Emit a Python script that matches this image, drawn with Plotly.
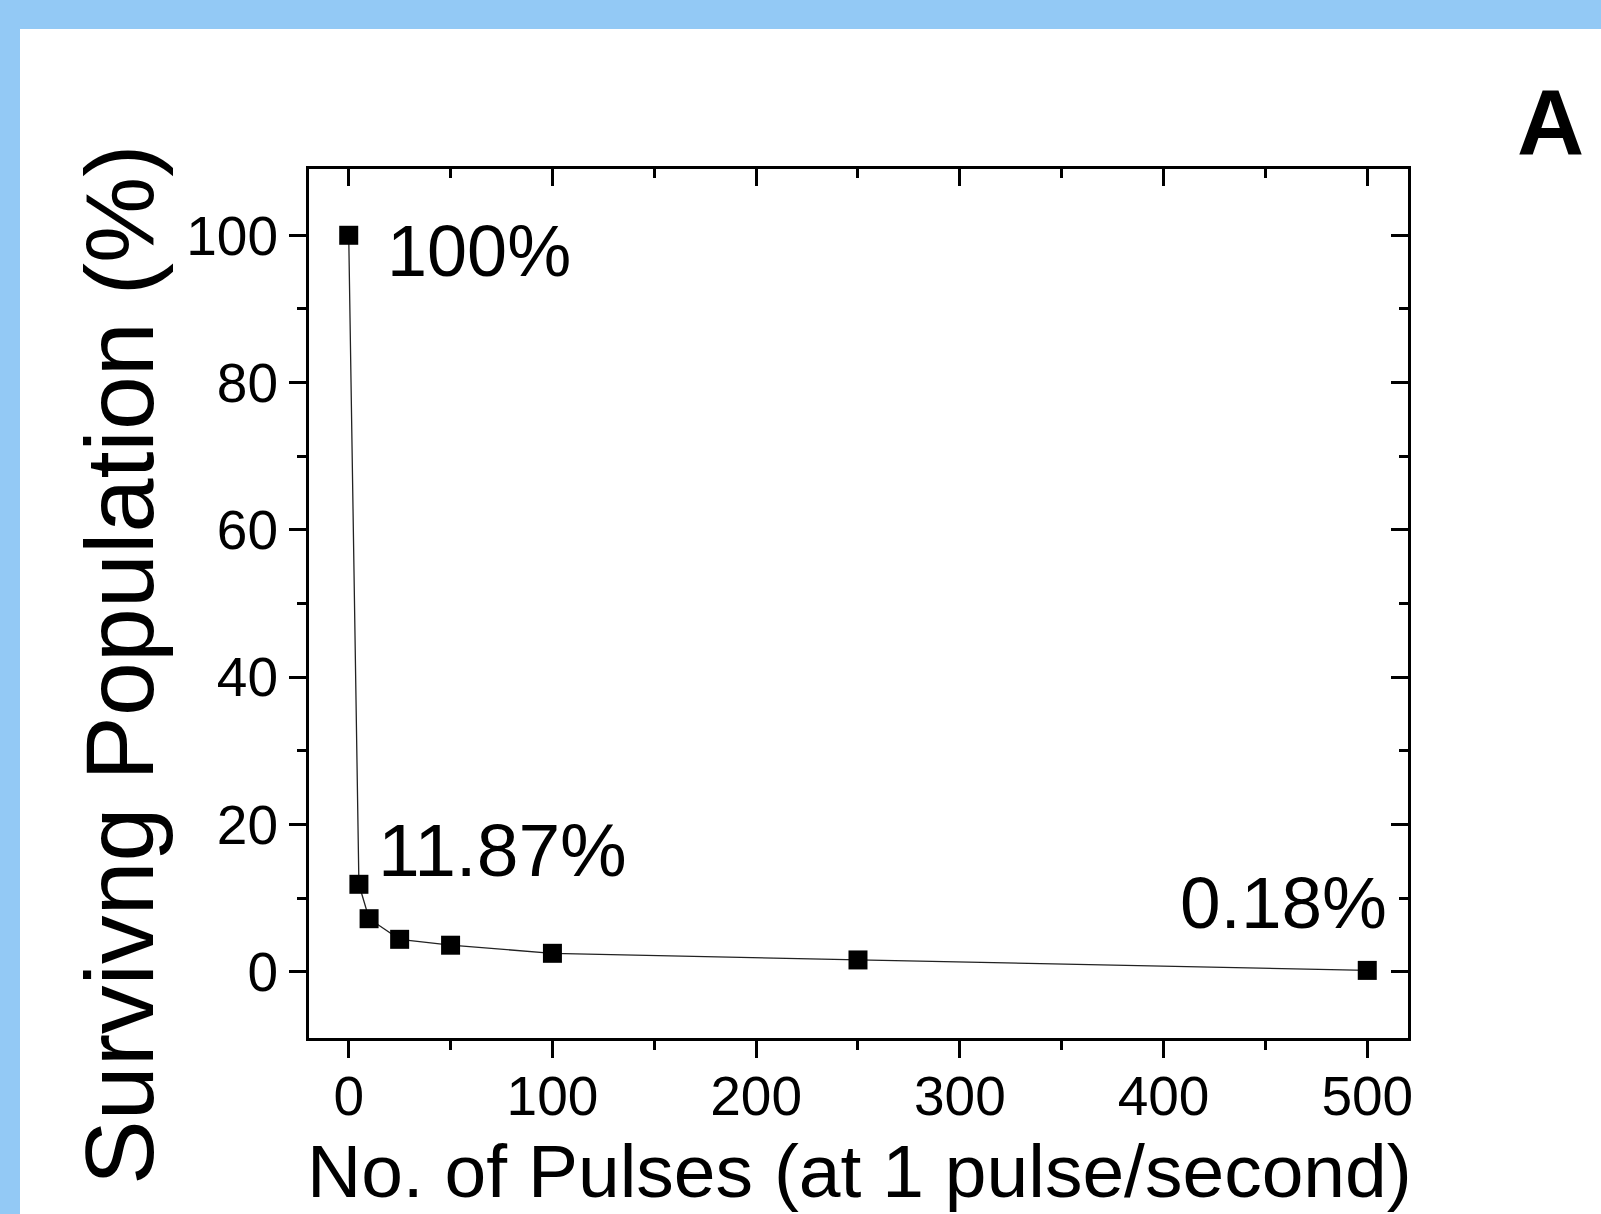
import plotly.graph_objects as go

# ---- data ----
pulses = [0, 5, 10, 25, 50, 100, 250, 500]
surviving = [100, 11.87, 7.2, 4.4, 3.6, 2.5, 1.6, 0.18]
x_ticks = [0, 100, 200, 300, 400, 500]
y_ticks = [0, 20, 40, 60, 80, 100]
point_labels = ["100%", "11.87%", "0.18%"]
x_title = "No. of Pulses (at 1 pulse/second)"
y_title = "Survivng Population (%)"
panel_label = "A"

W, H = 1601, 1214
L, R, T, B = 309, 1408, 169, 1038
FONT = "Liberation Sans, Arial, Helvetica, sans-serif"
BLUE = "#93C9F5"


def px(xp):
    return (xp - L) / (R - L)


def py(yp):
    return (B - yp) / (B - T)


fig = go.Figure()
fig.add_trace(go.Scatter(
    x=pulses, y=surviving, mode="lines+markers",
    line=dict(color="#222222", width=1.3),
    marker=dict(symbol="square", size=19, color="black"),
    showlegend=False, hoverinfo="skip"))
# invisible trace to activate mirrored axes
fig.add_trace(go.Scatter(x=[pulses[0]], y=[surviving[0]], xaxis="x2", yaxis="y2",
                         mode="markers", marker=dict(opacity=0), showlegend=False,
                         hoverinfo="skip"))

xr = [-19.5, 520]
yr = [-9, 109]
axis_common = dict(showgrid=False, zeroline=False, showline=True, linecolor="black",
                   linewidth=3, tickcolor="black", tickwidth=3, ticklen=17)

fig.update_layout(
    width=W, height=H,
    margin=dict(l=L, r=W - R, t=T, b=H - B, pad=0),
    paper_bgcolor=BLUE, plot_bgcolor="white",
    font=dict(family=FONT, color="black"),
    xaxis=dict(range=xr, tickvals=x_ticks, ticks="outside",
               tickfont=dict(size=55, family=FONT), ticklabelstandoff=-9,
               minor=dict(dtick=50, tick0=0, ticks="outside", ticklen=9,
                          tickwidth=3, tickcolor="black"),
               **axis_common),
    yaxis=dict(range=yr, tickvals=y_ticks, ticks="outside",
               tickfont=dict(size=55, family=FONT),
               minor=dict(dtick=10, tick0=0, ticks="outside", ticklen=9,
                          tickwidth=3, tickcolor="black"),
               **axis_common),
    xaxis2=dict(range=xr, overlaying="x", side="top", tickvals=x_ticks, ticks="inside",
                showticklabels=False,
                minor=dict(dtick=50, tick0=0, ticks="inside", ticklen=9,
                           tickwidth=3, tickcolor="black"),
                **axis_common),
    yaxis2=dict(range=yr, overlaying="y", side="right", tickvals=y_ticks, ticks="inside",
                showticklabels=False,
                minor=dict(dtick=10, tick0=0, ticks="inside", ticklen=9,
                           tickwidth=3, tickcolor="black"),
                **axis_common),
)

# white canvas leaving blue border at top and left
fig.add_shape(type="rect", xref="paper", yref="paper",
              x0=px(20), x1=px(W + 5), y0=py(29), y1=py(H + 5),
              fillcolor="white", line=dict(width=0), layer="below")

annos = [
    dict(text=point_labels[0], x=px(385), y=py(251), xanchor="left", yanchor="middle", size=72),
    dict(text=point_labels[1], x=px(376), y=py(850), xanchor="left", yanchor="middle", size=75),
    dict(text=point_labels[2], x=px(1389), y=py(902), xanchor="right", yanchor="middle", size=73),
]
for a in annos:
    fig.add_annotation(text=a["text"], x=a["x"], y=a["y"], xref="paper", yref="paper",
                       xanchor=a["xanchor"], yanchor=a["yanchor"], showarrow=False,
                       font=dict(size=a["size"], family=FONT, color="black"))

fig.add_annotation(text=x_title, x=px(859), y=py(1171), xref="paper", yref="paper",
                   xanchor="center", yanchor="middle", showarrow=False,
                   font=dict(size=75, family=FONT, color="black"))
fig.add_annotation(text=y_title, x=px(119), y=py(665), xref="paper", yref="paper",
                   xanchor="center", yanchor="middle", showarrow=False, textangle=-90,
                   font=dict(size=97, family=FONT, color="black"))
fig.add_annotation(text="<b>" + panel_label + "</b>", x=px(1550), y=py(122), xref="paper",
                   yref="paper", xanchor="center", yanchor="middle", showarrow=False,
                   font=dict(size=93, family=FONT, color="black"))

fig.write_html("out.html", config={"displayModeBar": False},
               post_script="document.body.style.margin='0px';")
